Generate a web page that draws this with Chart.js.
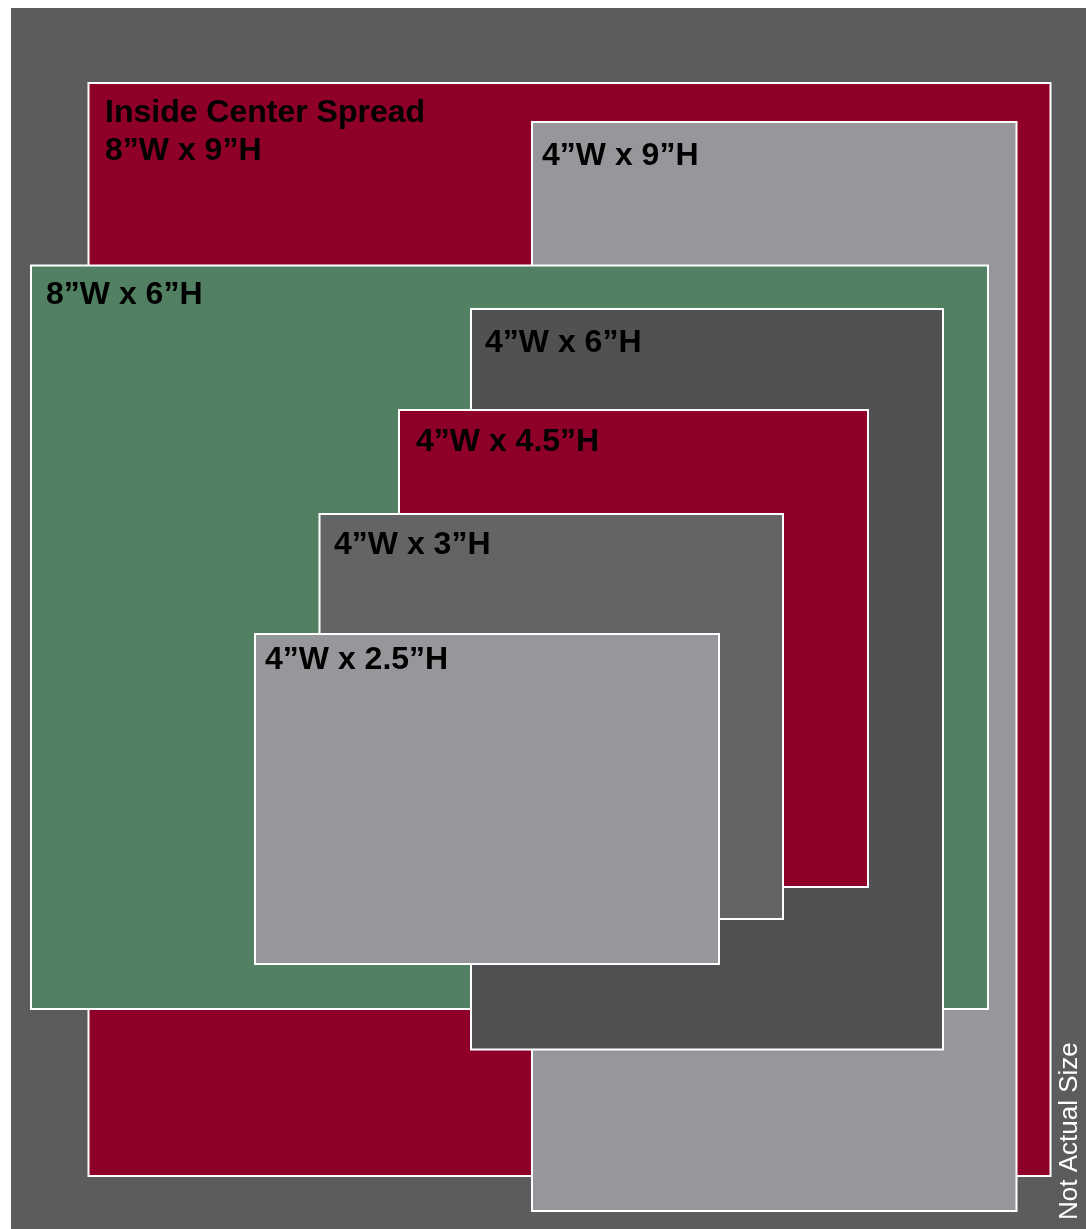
<!DOCTYPE html>
<html>
<head>
<meta charset="utf-8">
<title>Ad Sizes</title>
<script src="https://cdn.jsdelivr.net/npm/chart.js@4/dist/chart.umd.min.js"></script>
<style>
  html, body { margin: 0; padding: 0; background: #ffffff; }
  canvas { display: block; }
</style>
</head>
<body>
<canvas id="sizes" width="1086" height="1229"></canvas>
<script>
// Ad size boxes, listed from back to front (panel units)
const boxLabels = [
  ["Inside Center Spread", "8”W x 9”H"],
  ["4”W x 9”H"],
  ["8”W x 6”H"],
  ["4”W x 6”H"],
  ["4”W x 4.5”H"],
  ["4”W x 3”H"],
  ["4”W x 2.5”H"],
];
const boxLeft = [77.5, 521, 20, 460, 388, 308.5, 244];
const boxRight = [1039.5, 1005.5, 977, 932, 857, 772, 708];
const boxTop = [75, 114, 257.5, 301, 402, 506, 626];
const boxBottom = [1168, 1203, 1001, 1041.5, 879, 911, 956];

const footNote = "Not Actual Size";

// Styles
const boxColors = ["#8f0029", "#96979a", "#518062", "#515153", "#8f0029", "#636466", "#96979a"];
const panelColor = "#5b5c5e";
// label offset from each box's top-left corner: [dx, baseline dy]
const labelOffsets = [[16.5, 39], [10, 43], [15, 38.5], [14, 43], [17, 41], [14.5, 40], [10, 35]];
const labelLineHeight = 38;

// Each box becomes a closed outline filled with fill: 'shape'
const datasets = boxLabels.map((label, i) => ({
  label: label.join(" "),
  data: [
    { x: boxLeft[i], y: boxTop[i] },
    { x: boxRight[i], y: boxTop[i] },
    { x: boxRight[i], y: boxBottom[i] },
    { x: boxLeft[i], y: boxBottom[i] },
    { x: boxLeft[i], y: boxTop[i] },
  ],
  showLine: true,
  fill: "shape",
  backgroundColor: boxColors[i],
  borderColor: "#ffffff",
  borderWidth: 2,
  borderCapStyle: "square",
  borderJoinStyle: "miter",
  pointRadius: 0,
  pointHoverRadius: 0,
  tension: 0,
  order: boxLabels.length - i, // first box sits at the back
}));

// Grey panel behind the boxes
const panelPlugin = {
  id: "panel",
  beforeDraw(chart) {
    const { ctx, chartArea } = chart;
    ctx.save();
    ctx.fillStyle = panelColor;
    ctx.fillRect(chartArea.left, chartArea.top, chartArea.right - chartArea.left, chartArea.bottom - chartArea.top);
    ctx.restore();
  },
};

// Box captions and the vertical note
const labelPlugin = {
  id: "boxLabels",
  afterDatasetsDraw(chart) {
    const { ctx, chartArea } = chart;
    const xs = chart.scales.x;
    const ys = chart.scales.y;
    ctx.save();
    ctx.fillStyle = "#000000";
    ctx.font = "bold 32px 'Liberation Sans', Arial, sans-serif";
    ctx.textAlign = "left";
    ctx.textBaseline = "alphabetic";
    boxLabels.forEach((lines, i) => {
      const x = xs.getPixelForValue(boxLeft[i]) + labelOffsets[i][0];
      const y = ys.getPixelForValue(boxTop[i]) + labelOffsets[i][1];
      lines.forEach((line, j) => ctx.fillText(line, x, y + j * labelLineHeight));
    });

    ctx.fillStyle = "#ffffff";
    ctx.font = "26px 'Liberation Sans', Arial, sans-serif";
    ctx.translate(chartArea.right - 9, chartArea.bottom - 9);
    ctx.rotate(-Math.PI / 2);
    ctx.fillText(footNote, 0, 0);
    ctx.restore();
  },
};

new Chart(document.getElementById("sizes").getContext("2d"), {
  type: "scatter",
  data: { datasets },
  options: {
    responsive: false,
    animation: false,
    events: [],
    layout: { padding: { left: 11, top: 8, right: 0, bottom: 0 } },
    plugins: {
      legend: { display: false },
      tooltip: { enabled: false },
    },
    scales: {
      x: { type: "linear", min: 0, max: 1075, display: false },
      y: { type: "linear", min: 0, max: 1221, reverse: true, display: false },
    },
  },
  plugins: [panelPlugin, labelPlugin],
});
</script>
</body>
</html>
